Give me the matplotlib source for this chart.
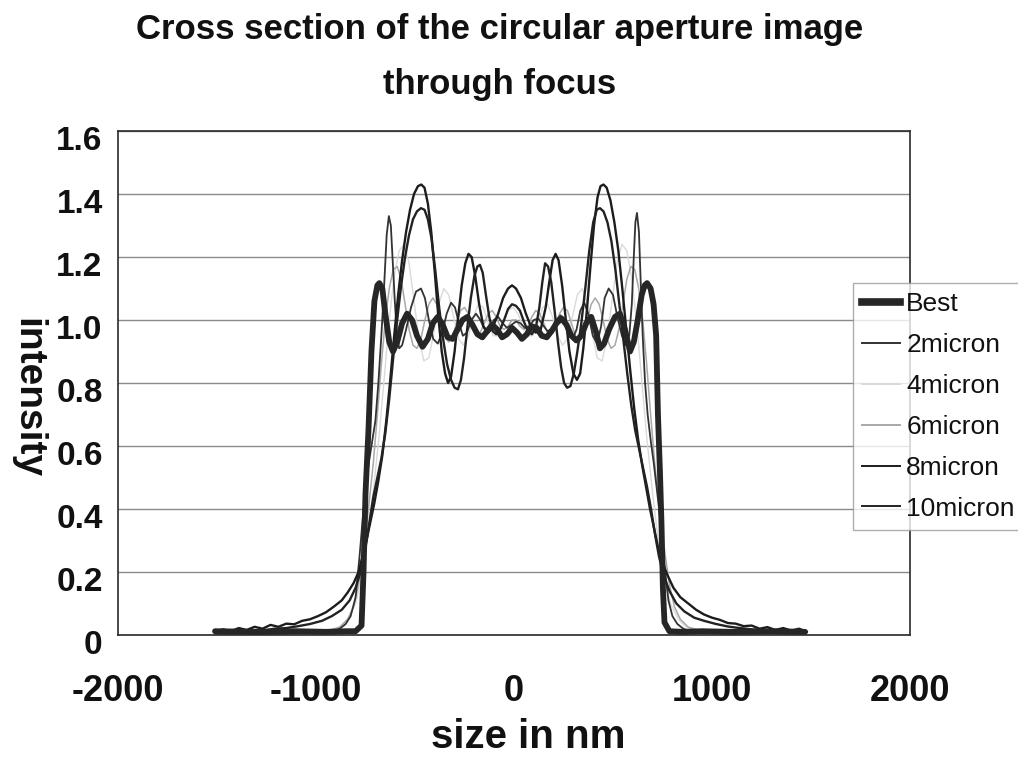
import matplotlib
matplotlib.use("Agg")
import matplotlib.pyplot as plt
from matplotlib.lines import Line2D
from matplotlib.transforms import ScaledTranslation

# ---- data: cross-section intensity profiles (x in nm) ----
series_names = ["Best", "2micron", "4micron", "6micron", "8micron", "10micron"]

best_x = [-1510, -1300, -1100, -950, -850, -800, -770, -760, -750, -735, -720, -705,
          -690, -680, -665, -650, -630, -611, -590, -565, -540, -515, -490, -462,
          -435, -410, -385, -360, -335, -310, -285, -260, -235, -210, -185, -160,
          -135, -110, -85, -60, -35, -10, 15, 40, 65, 90, 115, 140, 165, 190, 215,
          240, 265, 290, 315, 340, 365, 390, 415, 434, 455, 480, 510, 535, 560, 586,
          605, 625, 645, 660, 672, 690, 705, 718, 727, 737, 745, 752, 760, 785, 850,
          950, 1100, 1300, 1470]
best_y = [0.012, 0.010, 0.012, 0.010, 0.012, 0.012, 0.03, 0.20, 0.45, 0.65, 0.90, 1.06,
          1.11, 1.117, 1.10, 1.02, 0.93, 0.90, 0.93, 0.99, 1.02, 1.00, 0.95, 0.915,
          0.94, 0.99, 1.01, 0.985, 0.945, 0.94, 0.97, 1.00, 1.01, 0.985, 0.955, 0.945,
          0.965, 0.985, 0.97, 0.945, 0.955, 0.975, 0.96, 0.94, 0.955, 0.98, 0.975, 0.95,
          0.945, 0.965, 0.99, 1.005, 0.985, 0.95, 0.935, 0.95, 0.99, 1.01, 0.96, 0.91,
          0.925, 0.97, 1.01, 1.02, 0.97, 0.90, 0.93, 1.00, 1.08, 1.11, 1.117, 1.10,
          1.05, 0.95, 0.70, 0.52, 0.35, 0.15, 0.04, 0.012, 0.010, 0.012, 0.010, 0.012,
          0.010]

m2_x = [-1510, -1200, -1000, -920, -880, -850, -825, -800, -780, -760, -740, -720,
        -700, -685, -670, -655, -643, -632, -622, -612, -602, -592, -580, -565, -545,
        -520, -495, -470, -450, -430, -408, -385, -362, -340, -318, -298, -278, -258,
        -238, -215, -192, -170, -148, -125, -102, -80, -58, -35, -12, 10, 32, 55, 78,
        100, 122, 145, 168, 190, 212, 235, 256, 276, 296, 316, 335, 355, 375, 398,
        420, 440, 458, 478, 500, 522, 545, 565, 582, 595, 605, 613, 621, 631, 640,
        650, 662, 675, 690, 705, 720, 740, 760, 780, 800, 825, 855, 900, 1000, 1200,
        1470]
m2_y = [0.004, 0.004, 0.006, 0.010, 0.020, 0.035, 0.06, 0.12, 0.25, 0.40, 0.52, 0.60,
        0.68, 0.80, 0.95, 1.12, 1.27, 1.33, 1.30, 1.18, 1.06, 0.96, 0.91, 0.92, 0.97,
        1.04, 1.09, 1.10, 1.07, 1.00, 0.94, 0.925, 0.96, 1.02, 1.055, 1.04, 0.99, 0.95,
        0.96, 1.00, 1.02, 1.00, 0.97, 0.97, 1.00, 1.01, 0.99, 0.975, 0.985, 0.995, 0.99,
        0.975, 0.98, 1.00, 1.005, 0.985, 0.965, 0.97, 1.00, 1.015, 0.995, 0.955, 0.94,
        0.97, 1.03, 1.055, 1.02, 0.95, 0.925, 0.98, 1.07, 1.10, 1.08, 1.01, 0.95, 0.92,
        0.95, 1.05, 1.20, 1.31, 1.34, 1.28, 1.12, 0.95, 0.80, 0.70, 0.62, 0.55, 0.47,
        0.36, 0.22, 0.11, 0.06, 0.035, 0.02, 0.010, 0.006, 0.005, 0.004]

m4_x = [-1510, -1100, -950, -880, -840, -800, -770, -740, -710, -680, -655, -630,
        -605, -580, -555, -530, -505, -480, -455, -430, -405, -380, -355, -330, -305,
        -280, -255, -230, -205, -180, -155, -130, -105, -80, -55, -30, -5, 20, 45, 70,
        95, 120, 145, 170, 195, 220, 245, 270, 295, 320, 345, 370, 395, 420, 445, 470,
        495, 520, 545, 570, 595, 620, 645, 670, 700, 730, 760, 790, 830, 870, 940,
        1100, 1470]
m4_y = [0.005, 0.007, 0.012, 0.025, 0.05, 0.10, 0.18, 0.30, 0.46, 0.64, 0.82, 1.00,
        1.14, 1.22, 1.24, 1.18, 1.06, 0.94, 0.87, 0.88, 0.96, 1.05, 1.10, 1.08, 1.01,
        0.94, 0.92, 0.95, 1.01, 1.05, 1.04, 0.99, 0.95, 0.95, 0.99, 1.03, 1.04, 1.02,
        0.98, 0.95, 0.95, 0.99, 1.04, 1.05, 1.01, 0.95, 0.92, 0.94, 1.01, 1.08, 1.10,
        1.05, 0.96, 0.88, 0.87, 0.94, 1.06, 1.18, 1.24, 1.22, 1.13, 0.99, 0.81, 0.63,
        0.45, 0.29, 0.17, 0.10, 0.05, 0.025, 0.012, 0.007, 0.005]

m6_x = [-1510, -1100, -950, -880, -840, -810, -785, -760, -735, -710, -690, -670,
        -650, -630, -610, -590, -570, -550, -530, -510, -490, -470, -450, -430, -410,
        -390, -370, -350, -330, -310, -290, -270, -250, -230, -210, -190, -170, -150,
        -130, -110, -90, -70, -50, -30, -10, 10, 30, 50, 70, 90, 110, 130, 150, 170,
        190, 210, 230, 250, 270, 290, 310, 330, 350, 370, 390, 410, 430, 450, 470,
        490, 510, 530, 550, 570, 590, 610, 630, 650, 670, 690, 710, 735, 760, 785,
        810, 840, 880, 950, 1100, 1470]
m6_y = [0.006, 0.008, 0.012, 0.025, 0.05, 0.09, 0.16, 0.27, 0.40, 0.55, 0.70, 0.86,
        1.00, 1.10, 1.16, 1.17, 1.13, 1.05, 0.97, 0.92, 0.91, 0.94, 1.00, 1.05, 1.07,
        1.05, 1.00, 0.95, 0.93, 0.95, 0.99, 1.03, 1.04, 1.02, 0.98, 0.96, 0.96, 0.99,
        1.02, 1.03, 1.01, 0.98, 0.97, 0.98, 1.00, 1.00, 0.98, 0.97, 0.98, 1.01, 1.03,
        1.02, 0.99, 0.96, 0.96, 0.98, 1.02, 1.04, 1.03, 0.99, 0.95, 0.93, 0.95, 1.00,
        1.05, 1.07, 1.05, 1.00, 0.94, 0.91, 0.92, 0.97, 1.05, 1.13, 1.17, 1.16, 1.10,
        1.00, 0.86, 0.70, 0.55, 0.40, 0.27, 0.16, 0.09, 0.05, 0.025, 0.012, 0.008,
        0.006]

m8_x = [-1510, -1470, -1430, -1390, -1350, -1310, -1270, -1230, -1190, -1150, -1110,
        -1070, -1030, -990, -950, -910, -870, -840, -810, -785, -765, -745, -725, -705,
        -685, -665, -645, -625, -605, -585, -565, -545, -525, -505, -485, -468, -452,
        -435, -418, -400, -382, -365, -348, -333, -318, -300, -282, -264, -246, -230,
        -214, -196, -176, -155, -130, -105, -80, -55, -30, -10, 10, 35, 60, 85, 110,
        135, 160, 178, 195, 210, 225, 243, 262, 280, 300, 318, 334, 350, 368, 386, 404,
        422, 437, 452, 468, 487, 507, 527, 547, 567, 587, 607, 627, 647, 667, 687, 707,
        727, 750, 775, 805, 840, 880, 920, 960, 1000, 1040, 1080, 1120, 1160, 1200,
        1240, 1280, 1320, 1360, 1400, 1440, 1470]
m8_y = [0.010, 0.018, 0.012, 0.022, 0.016, 0.026, 0.020, 0.032, 0.026, 0.036, 0.034,
        0.045, 0.050, 0.060, 0.072, 0.090, 0.110, 0.135, 0.165, 0.20, 0.25, 0.30, 0.36,
        0.42, 0.49, 0.57, 0.68, 0.81, 0.95, 1.08, 1.19, 1.28, 1.35, 1.40, 1.425, 1.43,
        1.42, 1.37, 1.28, 1.15, 1.01, 0.90, 0.83, 0.80, 0.82, 0.90, 1.01, 1.11, 1.18,
        1.21, 1.20, 1.14, 1.05, 0.98, 0.96, 0.98, 1.02, 1.07, 1.10, 1.11, 1.10, 1.07,
        1.02, 0.98, 0.96, 0.97, 1.04, 1.12, 1.19, 1.21, 1.19, 1.11, 1.00, 0.90, 0.83,
        0.81, 0.83, 0.91, 1.03, 1.17, 1.30, 1.39, 1.425, 1.43, 1.42, 1.38, 1.31, 1.22,
        1.10, 0.97, 0.84, 0.72, 0.62, 0.54, 0.47, 0.40, 0.34, 0.28, 0.23, 0.19, 0.15,
        0.12, 0.10, 0.08, 0.065, 0.055, 0.048, 0.038, 0.036, 0.028, 0.030, 0.020,
        0.025, 0.016, 0.022, 0.014, 0.020, 0.012]

m10_x = [-1510, -1450, -1390, -1330, -1270, -1210, -1150, -1090, -1030, -970, -920,
         -870, -830, -800, -775, -752, -730, -710, -690, -670, -650, -630, -610, -590,
         -570, -550, -530, -510, -490, -470, -452, -435, -417, -398, -378, -358, -338,
         -318, -300, -283, -268, -252, -235, -218, -200, -185, -172, -158, -142, -125,
         -108, -90, -70, -50, -30, -10, 10, 30, 50, 70, 90, 110, 128, 143, 157, 172,
         188, 205, 222, 238, 253, 268, 285, 302, 320, 340, 360, 380, 400, 418, 434,
         452, 472, 492, 512, 532, 552, 572, 592, 612, 632, 652, 672, 692, 712, 732,
         755, 785, 820, 860, 910, 960, 1020, 1080, 1140, 1200, 1260, 1320, 1380, 1440,
         1480]
m10_y = [0.008, 0.012, 0.010, 0.016, 0.014, 0.020, 0.022, 0.028, 0.035, 0.045, 0.060,
         0.080, 0.110, 0.150, 0.20, 0.27, 0.36, 0.44, 0.50, 0.56, 0.64, 0.75, 0.88,
         1.00, 1.11, 1.20, 1.27, 1.32, 1.345, 1.355, 1.35, 1.32, 1.26, 1.16, 1.04, 0.94,
         0.86, 0.81, 0.785, 0.78, 0.81, 0.88, 0.98, 1.07, 1.14, 1.17, 1.175, 1.15, 1.08,
         1.01, 0.965, 0.955, 0.97, 1.00, 1.035, 1.05, 1.045, 1.03, 0.995, 0.965, 0.955,
         0.975, 1.04, 1.12, 1.18, 1.17, 1.12, 1.03, 0.93, 0.85, 0.80, 0.785, 0.79, 0.83,
         0.90, 0.99, 1.10, 1.22, 1.31, 1.35, 1.355, 1.345, 1.31, 1.25, 1.16, 1.05, 0.94,
         0.83, 0.73, 0.65, 0.59, 0.53, 0.47, 0.40, 0.32, 0.25, 0.19, 0.14, 0.10, 0.075,
         0.055, 0.045, 0.035, 0.027, 0.022, 0.018, 0.015, 0.013, 0.012, 0.010, 0.010]

x_ticks = [-2000, -1000, 0, 1000, 2000]
x_tick_labels = ["-2000", "-1000", "0", "1000", "2000"]
y_ticks = [0, 0.2, 0.4, 0.6, 0.8, 1.0, 1.2, 1.4, 1.6]
y_tick_labels = ["0", "0.2", "0.4", "0.6", "0.8", "1.0", "1.2", "1.4", "1.6"]

title_text = "Cross section of the circular aperture image\nthrough focus"
x_label = "size in nm"
y_label = "intensity"

# ---- styling ----
series_data = [(best_x, best_y), (m2_x, m2_y), (m4_x, m4_y),
               (m6_x, m6_y), (m8_x, m8_y), (m10_x, m10_y)]
series_style = [
    dict(color="#262626", lw=4.2, zorder=6),
    dict(color="#333333", lw=1.3, zorder=4),
    dict(color="#dadada", lw=1.0, zorder=2),
    dict(color="#a8a8a8", lw=1.1, zorder=3),
    dict(color="#1c1c1c", lw=1.7, zorder=5),
    dict(color="#222222", lw=1.7, zorder=5),
]

bold = ["Liberation Sans", "DejaVu Sans"]

W, H = 1018, 757
fig = plt.figure(figsize=(W / 100, H / 100), dpi=100)
fig.patch.set_facecolor("white")

left, right, top, bottom = 118, 910, 131, 635
ax = fig.add_axes([left / W, 1 - bottom / H, (right - left) / W, (bottom - top) / H])
ax.set_xlim(-2000, 2000)
ax.set_ylim(0, 1.6)

for (xs, ys), name, st in zip(series_data, series_names, series_style):
    ax.plot(xs, ys, label=name, solid_joinstyle="round", solid_capstyle="round", **st)

ax.set_yticks(y_ticks)
ax.set_yticklabels(y_tick_labels, fontsize=24, fontweight="bold", family=bold)
ax.set_xticks(x_ticks)
ax.set_xticklabels(x_tick_labels, fontsize=26, fontweight="bold", family=bold)
ax.tick_params(axis="both", length=0, colors="#111111")
ax.tick_params(axis="y", pad=11)
ax.tick_params(axis="x", pad=28)

# y labels sit slightly below their gridlines
shift_down = ScaledTranslation(0, -0.07, fig.dpi_scale_trans)
for lab in ax.get_yticklabels():
    lab.set_transform(lab.get_transform() + shift_down)

ax.yaxis.grid(True, color="#8a8a8a", lw=1.0)
ax.set_axisbelow(True)
for s in ax.spines.values():
    s.set_color("#2a2a2a")
    s.set_linewidth(1.2)

fig.text(0.491, 1 - 57 / H, title_text, ha="center", va="center", fontsize=25,
         fontweight="bold", family=bold, linespacing=1.85, color="#111111")
fig.text(528 / W, 1 - 737 / H, x_label, ha="center", va="center", fontsize=29,
         fontweight="bold", family=bold, color="#111111")
fig.text(27 / W, 1 - 398 / H, y_label, ha="center", va="center", fontsize=28,
         fontweight="bold", family=bold, rotation=-90, color="#111111")

handles = [Line2D([], [], color=st["color"], lw=(5.5 if i == 0 else 1.4))
           for i, st in enumerate(series_style)]
leg = fig.legend(handles, series_names, loc="upper left",
                 bbox_to_anchor=(853 / W, 1 - 283 / H), frameon=True, fancybox=False,
                 prop=dict(family=bold, size=19), handlelength=1.44,
                 handletextpad=0.23, labelspacing=0.64, borderpad=0.35,
                 borderaxespad=0.0)
leg.get_frame().set_edgecolor("#9a9a9a")
leg.get_frame().set_linewidth(1.0)
for t in leg.get_texts():
    t.set_color("#111111")

fig.savefig("out.png", dpi=100, facecolor="white")
